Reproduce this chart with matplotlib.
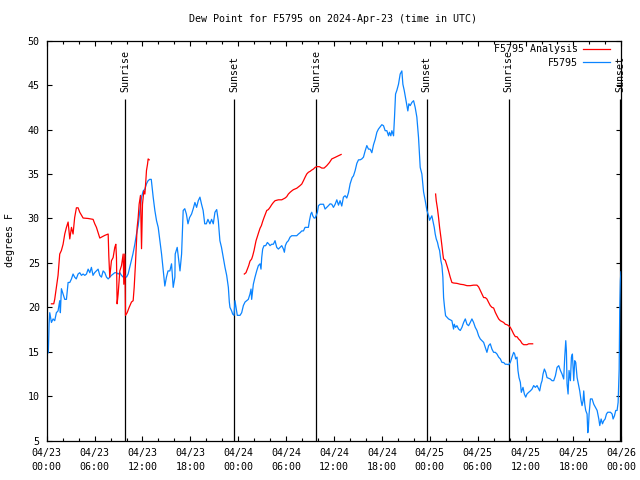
import numpy as np
import matplotlib
matplotlib.use("Agg")
import matplotlib.pyplot as plt

# hours since 2024-04-23 00:00 UTC
blue_hours = [
    0.2, 0.3, 0.38, 0.59, 0.8, 1.0, 1.21, 1.42, 1.63, 1.71, 1.84, 2.05, 2.26, 2.47, 2.68, 2.89,
    3.1, 3.3, 3.5, 3.7, 3.93, 4.14, 4.35, 4.56, 4.77, 4.98, 5.19, 5.4, 5.6, 5.8, 6.0, 6.23,
    6.44, 6.65, 6.86, 7.07, 7.28, 7.49, 7.7, 7.9, 8.11, 8.32, 8.53, 8.74, 8.95, 9.16, 9.37, 9.58,
    9.79, 10.0, 10.2, 10.4, 10.6, 10.8, 11.04, 11.25, 11.46, 11.67, 11.88, 12.09, 12.3, 12.5,
    12.7, 12.9, 13.1, 13.34, 13.55, 13.76, 13.97, 14.18, 14.39, 14.6, 14.8, 15.0, 15.2, 15.43,
    15.64, 15.85, 16.06, 16.1, 16.35, 16.5, 16.7, 16.9, 17.1, 17.3, 17.5, 17.7, 17.9, 18.15,
    18.36, 18.57, 18.78, 18.99, 19.2, 19.4, 19.6, 19.8, 20.0, 20.2, 20.45, 20.66, 20.87, 21.08,
    21.3, 21.5, 21.7, 21.9, 22.13, 22.34, 22.55, 22.76, 22.88, 22.96, 23.17, 23.3, 23.47, 23.59,
    23.72, 23.88, 24.22, 24.43, 24.64, 24.85, 25.06, 25.26, 25.47, 25.6, 25.68, 25.89, 26.1,
    26.31, 26.52, 26.73, 26.85, 26.94, 27.06, 27.23, 27.44, 27.65, 27.86, 27.98, 28.19, 28.4,
    28.61, 28.82, 29.03, 29.24, 29.45, 29.66, 29.78, 29.9, 30.07, 30.28, 30.49, 30.7, 30.91,
    31.33, 31.54, 31.75, 31.96, 32.17, 32.37, 32.58, 32.79, 32.92, 33.09, 33.21, 33.34, 33.5,
    33.63, 33.75, 33.92, 34.05, 34.26, 34.47, 34.68, 34.88, 35.09, 35.3, 35.51, 35.72, 35.93,
    36.14, 36.35, 36.56, 36.76, 36.97, 37.18, 37.39, 37.6, 37.81, 38.02, 38.15, 38.27, 38.44,
    38.65, 38.86, 39.07, 39.28, 39.48, 39.69, 39.9, 40.11, 40.32, 40.53, 40.74, 40.95, 41.16,
    41.37, 41.57, 41.78, 41.99, 42.2, 42.41, 42.62, 42.83, 42.95, 43.12, 43.25, 43.46, 43.58,
    43.71, 43.87, 44.08, 44.29, 44.5, 44.63, 44.8, 44.96, 45.13, 45.25, 45.38, 45.55, 45.76,
    45.97, 46.17, 46.38, 46.59, 46.8, 47.01, 47.22, 47.43, 47.64, 47.85, 47.97, 48.14, 48.26,
    48.39, 48.56, 48.68, 48.81, 48.97, 49.1, 49.23, 49.39, 49.52, 49.64, 49.73, 49.85, 49.98,
    50.15, 50.35, 50.77, 50.98, 51.07, 51.23, 51.4, 51.61, 51.82, 52.03, 52.24, 52.45, 52.66,
    52.86, 53.07, 53.28, 53.49, 53.7, 53.91, 54.12, 54.33, 54.54, 54.75, 54.96, 55.16, 55.37,
    55.58, 55.79, 56.0, 56.21, 56.42, 56.63, 56.84, 57.05, 57.26, 57.46, 57.67, 57.88, 58.09,
    58.3, 58.51, 58.64, 58.76, 58.93, 59.05, 59.18, 59.35, 59.47, 59.68, 59.85, 60.02, 60.18,
    60.39, 60.6, 60.81, 61.02, 61.23, 61.44, 61.65, 61.77, 61.94, 62.07, 62.19, 62.36, 62.53,
    62.69, 63.11, 63.32, 63.53, 63.74, 63.95, 64.16, 64.37, 64.57, 64.78, 64.91, 65.04, 65.12,
    65.2, 65.33, 65.45, 65.62, 65.75, 65.87, 66.04, 66.16, 66.29, 66.46, 66.62, 66.79, 66.96,
    67.08, 67.21, 67.29, 67.42, 67.54, 67.71, 67.8, 67.88, 67.96, 68.13, 68.34, 68.55, 68.76,
    68.97, 69.18, 69.3, 69.47, 69.64, 69.8, 69.97, 70.14, 70.3, 70.64, 70.85, 70.97, 71.14,
    71.3, 71.47, 71.6, 71.73, 71.8, 71.88, 71.95,
]
blue_vals = [
    14.9, 18.2, 19.4, 18.3, 18.7, 18.5, 19.4, 19.6, 20.75, 19.4, 22.1, 21.5, 20.9, 20.9, 22.8, 22.8,
    23.2, 23.75, 23.4, 23.2, 23.75, 23.9, 23.6, 23.75, 23.6, 23.75, 24.3, 23.9, 24.5, 23.6, 23.9, 24.1,
    24.3, 23.6, 23.4, 24.1, 23.9, 23.4, 23.2, 23.4, 23.6, 23.75, 23.9, 23.9, 23.75, 23.9, 23.6, 23.4,
    23.6, 23.4, 23.75, 24.5, 25.25, 26.0, 27.1, 28.25, 29.2, 30.9, 32.4, 33.1, 33.3, 33.9,
    34.25, 34.4, 34.4, 32.4, 30.9, 29.75, 29.0, 27.5, 26.0, 24.1, 22.4, 23.4, 24.1, 24.1,
    24.9, 22.25, 23.4, 26.0, 26.75, 25.6, 24.1, 26.0, 30.9, 31.1, 30.5, 29.4, 30.1, 30.5,
    31.1, 31.8, 31.25, 32.0, 32.4, 31.6, 30.9, 29.4, 29.4, 29.9, 29.4, 29.9, 29.4, 30.7,
    31.0, 29.75, 27.5, 26.75, 25.6, 24.5, 23.6, 22.25, 20.6, 20.0, 19.6, 19.25, 19.1, 20.75,
    20.0, 19.1, 19.1, 19.4, 20.2, 20.6, 20.75, 20.9, 21.5, 22.06, 20.9, 22.6, 23.4,
    24.1, 24.7, 24.9, 24.3, 25.6, 26.56, 26.94, 26.94, 27.3, 27.1, 26.94, 27.1, 27.1,
    27.5, 26.75, 26.56, 26.75, 26.94, 26.56, 26.2, 26.94, 27.3, 27.5, 27.9, 28.06, 28.06,
    28.06, 28.25, 28.4, 28.6, 28.6, 29.0, 29.0, 29.0, 29.75, 30.5, 30.7, 30.3, 30.05,
    30.05, 30.3, 30.7, 31.44, 31.6, 31.6, 31.6, 31.06, 31.25, 31.44, 31.65, 31.6, 31.25,
    31.6, 32.1, 31.5, 32.0, 31.4, 32.4, 32.56, 32.3, 32.9, 33.9, 34.25, 34.6, 34.8,
    35.4, 36.2, 36.6, 36.6, 36.7, 36.9, 37.6, 38.2, 37.8, 37.8, 37.4, 38.3, 38.9,
    39.7, 40.06, 40.3, 40.55, 40.44, 39.875, 39.875, 39.3, 39.7, 39.3, 39.875, 39.3, 41.4,
    44.0, 44.4, 45.1, 46.25, 46.6, 45.1, 44.4, 43.6, 42.7, 42.1, 42.9, 42.7, 43.06,
    43.25, 42.5, 41.4, 39.1, 35.75, 35.0, 33.0, 32.0, 30.9, 30.3, 29.8, 30.1, 30.3,
    29.75, 29.0, 28.25, 27.7, 27.3, 26.75, 26.4, 25.25, 24.7, 23.4, 21.1, 20.0, 19.06,
    18.9, 18.7, 18.5, 17.56, 18.1, 17.75, 17.94, 17.56, 17.4, 17.75, 18.3, 18.7, 18.1,
    17.94, 18.3, 18.7, 18.3, 17.75, 17.4, 16.8, 16.44, 16.25, 16.06, 15.5, 14.94, 15.69,
    15.9, 15.3, 14.94, 14.94, 14.75, 14.4, 14.2, 13.8, 13.8, 13.6, 13.6, 13.55, 13.8,
    14.4, 14.94, 14.75, 14.2, 14.4, 12.9, 12.1, 11.56, 10.44, 11.0, 10.25, 9.9, 10.25,
    10.44, 10.6, 10.8, 11.2, 11.0, 11.2, 10.8, 10.6, 11.4, 11.75, 12.5, 13.06, 12.7,
    12.1, 11.94, 11.75, 11.75, 12.3, 13.25, 13.44, 12.9, 12.5, 11.94, 14.4, 16.25, 15.1,
    11.4, 10.25, 12.9, 11.75, 14.4, 14.75, 11.75, 14.0, 13.8, 12.1, 11.4, 10.6, 9.5,
    8.94, 9.5, 10.6, 9.1, 8.4, 8.0, 5.9, 6.5, 8.0, 9.7, 9.7, 9.1, 8.75,
    8.4, 7.44, 6.7, 7.44, 6.9, 7.25, 7.44, 8.0, 8.2, 8.2, 8.0, 7.44, 7.8,
    8.4, 8.4, 9.3, 13.0, 19.5, 23.0, 24.0,
]

# analysis comes in three runs with gaps between them
red_hours_1 = [0.59, 0.88, 1.0, 1.21, 1.42, 1.63, 1.84, 2.05, 2.26, 2.47, 2.68, 2.89, 3.1, 3.3,
               3.5, 3.72, 3.93, 4.14, 4.56, 5.19, 5.81, 6.02, 6.23, 6.44, 6.65, 6.86, 7.28, 7.7,
               7.78, 7.9, 8.11, 8.32, 8.53, 8.66, 8.74, 8.82, 8.95, 9.16, 9.37, 9.58, 9.66, 9.79,
               9.87, 10.08, 10.33, 10.62, 10.83, 10.96, 11.12, 11.33, 11.46, 11.58, 11.75, 11.88,
               12.0, 12.17, 12.3, 12.42, 12.5, 12.63, 12.71, 12.84]
red_vals_1 = [20.4, 20.4, 20.9, 22.25, 23.6, 26.0, 26.4, 27.1, 28.25, 29.0, 29.6, 27.7, 29.0, 28.25,
              30.1, 31.2, 31.2, 30.7, 30.05, 30.0, 29.9, 29.4, 29.0, 28.4, 27.8, 27.9, 28.1, 28.25,
              25.8, 23.4, 25.25, 25.6, 26.75, 27.1, 25.6, 20.4, 21.5, 24.1, 24.7, 26.0, 22.6, 26.0,
              19.1, 19.4, 20.0, 20.6, 20.75, 22.25, 24.9, 29.0, 30.1, 31.6, 32.6, 26.6,
              31.6, 33.1, 32.75, 34.25, 35.4, 36.1, 36.7, 36.6]

red_hours_2 = [24.76, 24.97, 25.14, 25.31, 25.47, 25.68, 25.81, 25.98, 26.1, 26.23, 26.39, 26.56,
               26.73, 26.9, 27.06, 27.23, 27.4, 27.57, 27.77, 27.98, 28.19, 28.4, 28.61, 29.03,
               29.45, 29.87, 30.07, 30.28, 30.49, 30.7, 30.91, 31.33, 31.75, 31.96, 32.17, 32.37,
               32.58, 32.79, 33.0, 33.21, 33.42, 33.63, 33.84, 34.17, 34.47, 34.76, 35.09, 35.43,
               35.72, 36.14, 36.56, 36.89]
red_vals_2 = [23.75, 23.9, 24.3, 24.7, 25.2, 25.44, 25.8, 26.4, 26.94, 27.5, 27.95, 28.44,
              28.9, 29.2, 29.67, 30.1, 30.5, 30.9, 31.0, 31.25, 31.55, 31.8, 32.0, 32.1,
              32.1, 32.3, 32.45, 32.75, 32.94, 33.1, 33.24, 33.4, 33.7, 33.875, 34.25, 34.63,
              35.0, 35.2, 35.3, 35.45, 35.56, 35.75, 35.83, 35.83, 35.67, 35.67, 35.94, 36.3,
              36.7, 36.875, 37.06, 37.2]

red_hours_3 = [48.73, 48.81, 48.97, 49.1, 49.23, 49.39, 49.52, 49.64, 49.73, 49.94, 50.15, 50.35,
               50.56, 50.77, 50.98, 51.4, 51.82, 52.24, 52.66, 53.07, 53.49, 53.91, 54.12, 54.33,
               54.54, 54.75, 54.96, 55.16, 55.37, 55.58, 55.79, 56.0, 56.21, 56.42, 56.63, 56.84,
               57.05, 57.26, 57.46, 57.67, 57.88, 58.09, 58.3, 58.51, 58.72, 58.93, 59.13, 59.35,
               59.56, 59.77, 60.18, 60.39, 60.6, 60.89]
red_vals_3 = [32.75, 32.0, 31.06, 30.1, 29.0, 27.9, 26.94, 26.0, 25.44, 25.3, 24.7, 24.1,
              23.4, 22.8, 22.74, 22.7, 22.6, 22.55, 22.44, 22.44, 22.5, 22.5, 22.3, 21.9,
              21.5, 21.1, 21.1, 20.94, 20.56, 20.2, 20.0, 19.93, 19.44, 19.06, 18.7, 18.5,
              18.4, 18.3, 18.1, 18.05, 17.94, 17.75, 17.4, 17.0, 16.7, 16.7, 16.44, 16.25,
              15.94, 15.8, 15.8, 15.9, 15.9, 15.9]

sun_hours = [9.85, 23.52, 33.8, 47.6, 57.9, 71.85]
sun_labels = ['Sunrise', 'Sunset', 'Sunrise', 'Sunset', 'Sunrise', 'Sunset']

xtick_hours = [0, 6, 12, 18, 24, 30, 36, 42, 48, 54, 60, 66, 72]
xtick_labels = ['04/23\n00:00', '04/23\n06:00', '04/23\n12:00', '04/23\n18:00',
                '04/24\n00:00', '04/24\n06:00', '04/24\n12:00', '04/24\n18:00',
                '04/25\n00:00', '04/25\n06:00', '04/25\n12:00', '04/25\n18:00',
                '04/26\n00:00']

RED = '#ff0000'
BLUE = '#0a84ff'

plt.rcParams['font.family'] = ['DejaVu Sans Mono']
plt.rcParams['font.size'] = 7.2

fig = plt.figure(figsize=(6.4, 4.8), dpi=100)
ax = fig.add_axes([0.073, 0.0819, 0.8978, 0.8333])

for h, lab in zip(sun_hours, sun_labels):
    ax.vlines(h, 5, 43.4, color='black', lw=0.9, zorder=1)
    ax.text(h, 44.2, lab, rotation=90, ha='center', va='bottom', fontsize=7.2)

ax.plot(red_hours_1, red_vals_1, color=RED, lw=0.9, label='F5795 Analysis', zorder=3)
ax.plot(red_hours_2, red_vals_2, color=RED, lw=0.9, zorder=3)
ax.plot(red_hours_3, red_vals_3, color=RED, lw=0.9, zorder=3)
ax.plot(blue_hours, blue_vals, color=BLUE, lw=0.9, label='F5795', zorder=2)

ax.set_xlim(0, 72)
ax.set_ylim(5, 50)
ax.set_xticks(xtick_hours)
ax.set_xticklabels(xtick_labels, linespacing=1.5)
ax.set_xticks(np.arange(0, 73, 2), minor=True)
ax.set_yticks(np.arange(5, 51, 5))
ax.tick_params(which='both', direction='in', top=True, right=True, width=0.8, color='black')
ax.tick_params(which='major', length=3.6, pad=5)
ax.tick_params(which='minor', length=2.5)
for s in ax.spines.values():
    s.set_linewidth(0.9)

fig.text(0.52, 0.96, 'Dew Point for F5795 on 2024-Apr-23 (time in UTC)', ha='center', va='center')
fig.text(0.016, 0.5, 'degrees F', rotation=90, ha='center', va='center')

leg = ax.legend(loc='upper right', markerfirst=False, frameon=False, handlelength=2.7,
                handletextpad=0.5, labelspacing=0.35, borderpad=0, borderaxespad=0,
                bbox_to_anchor=(0.953, 0.908), bbox_transform=fig.transFigure)

fig.savefig('out.png', dpi=100)
